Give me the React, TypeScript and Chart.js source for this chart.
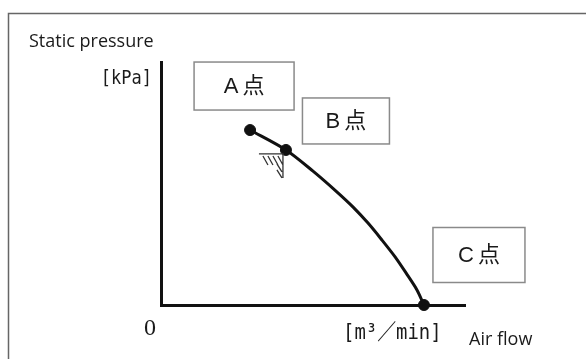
import React, { useEffect, useRef } from "react";
import { Chart, registerables } from "chart.js";
Chart.register(...registerables);

// Fan characteristic curve (air flow vs static pressure), arbitrary 0-100 units
const curveFlow = [29.3, 41.1, 50.0, 57.2, 63.2, 68.1, 72.7, 77.0, 80.6, 84.2, 86.5];
const curvePressure = [72.0, 63.8, 55.1, 47.3, 40.3, 33.7, 26.7, 19.8, 13.2, 6.2, 0];
const pointNames = ["A点", "B点", "C点"];
const pointFlow = [29.3, 41.1, 86.5];
const pointPressure = [72.0, 63.8, 0];
const yAxisTitle = "Static pressure";
const yUnit = "[kPa]";
const xUnit = "[m³／min]";
const xAxisTitle = "Air flow";
const originLabel = "0";

const boxLayout = [
  { dx: -6, dy: -44, w: 100, h: 48 },
  { dx: 60, dy: -29, w: 87, h: 46 },
  { dx: 55, dy: -50, w: 92, h: 55 },
];

function condensedText(ctx: any, text: string, x: number, y: number, sx: number, align: string) {
  ctx.save();
  ctx.translate(x, y);
  ctx.scale(sx, 1);
  ctx.textAlign = align;
  ctx.fillText(text, 0, 0);
  ctx.restore();
}

const decor = {
  id: "decor",
  beforeDraw(chart: any) {
    const ctx = chart.ctx;
    ctx.save();
    ctx.fillStyle = "#ffffff";
    ctx.fillRect(0, 0, chart.width, chart.height);
    ctx.strokeStyle = "#666666";
    ctx.lineWidth = 1.5;
    ctx.beginPath();
    ctx.moveTo(8.5, chart.height);
    ctx.lineTo(8.5, 13.5);
    ctx.lineTo(chart.width, 13.5);
    ctx.stroke();
    ctx.restore();
  },
  afterDraw(chart: any) {
    const ctx = chart.ctx;
    const xs = chart.scales.x;
    const ys = chart.scales.y;
    const area = chart.chartArea;
    ctx.save();
    ctx.fillStyle = "#1a1a1a";
    ctx.textBaseline = "alphabetic";
    // titles
    ctx.font = '18px "Open Sans", "Liberation Sans", sans-serif';
    ctx.textAlign = "left";
    ctx.fillText(yAxisTitle, 29, 47);
    ctx.fillText(xAxisTitle, area.right + 4, 345);
    // units
    ctx.font = '20px "DejaVu Sans Mono", "Noto Sans CJK JP", monospace';
    condensedText(ctx, yUnit, area.left - 9, 84, 0.85, "right");
    ctx.font = '22px "DejaVu Sans Mono", "Noto Sans CJK JP", monospace';
    condensedText(ctx, xUnit, 343, 339, 0.86, "left");
    ctx.font = '24px "Liberation Serif", serif';
    ctx.textAlign = "center";
    ctx.fillText(originLabel, area.left - 11, 335);

    // hatch at B
    const bx = xs.getPixelForValue(pointFlow[1]);
    const by = ys.getPixelForValue(pointPressure[1]);
    ctx.strokeStyle = "#333";
    ctx.lineWidth = 1.3;
    ctx.beginPath();
    ctx.moveTo(bx - 27, by + 4);
    ctx.lineTo(bx - 3, by + 4);
    ctx.lineTo(bx - 3, by + 28);
    for (let i = 0; i < 4; i++) {
      const x0 = bx - 23 + i * 5;
      ctx.moveTo(x0, by + 6);
      ctx.lineTo(x0 + 5, by + 15);
    }
    for (let i = 0; i < 2; i++) {
      const y0 = by + 14 + i * 6;
      ctx.moveTo(bx - 9, y0);
      ctx.lineTo(bx - 4, y0 + 8);
    }
    ctx.stroke();

    // boxes
    ctx.font = '22px "Liberation Sans", "Noto Sans CJK JP", sans-serif';
    ctx.textAlign = "center";
    ctx.textBaseline = "middle";
    pointNames.forEach((name, i) => {
      const px = xs.getPixelForValue(pointFlow[i]);
      const py = ys.getPixelForValue(pointPressure[i]);
      const b = boxLayout[i];
      const cx = px + b.dx;
      const cy = py + b.dy;
      ctx.fillStyle = "#ffffff";
      ctx.fillRect(cx - b.w / 2, cy - b.h / 2, b.w, b.h);
      ctx.strokeStyle = "#8a8a8a";
      ctx.lineWidth = 1.5;
      ctx.strokeRect(cx - b.w / 2, cy - b.h / 2, b.w, b.h);
      ctx.fillStyle = "#1a1a1a";
      ctx.save();
      (ctx as any).letterSpacing = "4px";
      ctx.fillText(name, cx + 2, cy + 1);
      ctx.restore();
    });
    ctx.restore();
  },
};

export default function App() {
  const ref = useRef<HTMLCanvasElement>(null);
  useEffect(() => {
    if (!ref.current) return;
    const chart = new Chart(ref.current, {
      type: "line",
      data: {
        datasets: [
          {
            data: curveFlow.map((x, i) => ({ x, y: curvePressure[i] })),
            borderColor: "#111",
            borderWidth: 3,
            pointRadius: 0,
            tension: 0.3,
            fill: false,
            clip: false,
          },
          {
            type: "scatter",
            data: pointFlow.map((x, i) => ({ x, y: pointPressure[i] })),
            backgroundColor: "#111",
            borderColor: "#111",
            pointRadius: 5.5,
            clip: false,
          },
        ],
      } as any,
      options: {
        animation: false,
        responsive: false,
        layout: { padding: { left: 153, top: 62, right: 121, bottom: 46 } },
        plugins: { legend: { display: false }, tooltip: { enabled: false } },
        scales: {
          x: {
            type: "linear",
            min: 0,
            max: 100,
            grid: { display: false },
            ticks: { display: false },
            border: { display: true, color: "#111", width: 3 },
          },
          y: {
            type: "linear",
            min: 0,
            max: 100,
            grid: { display: false },
            ticks: { display: false },
            border: { display: true, color: "#111", width: 3 },
          },
        },
      },
      plugins: [decor],
    });
    return () => chart.destroy();
  }, []);
  return (
    <div style={{ position: "fixed", left: 0, top: 0, width: 586, height: 359, background: "#fff" }}>
      <canvas ref={ref} width={586} height={359} />
    </div>
  );
}
